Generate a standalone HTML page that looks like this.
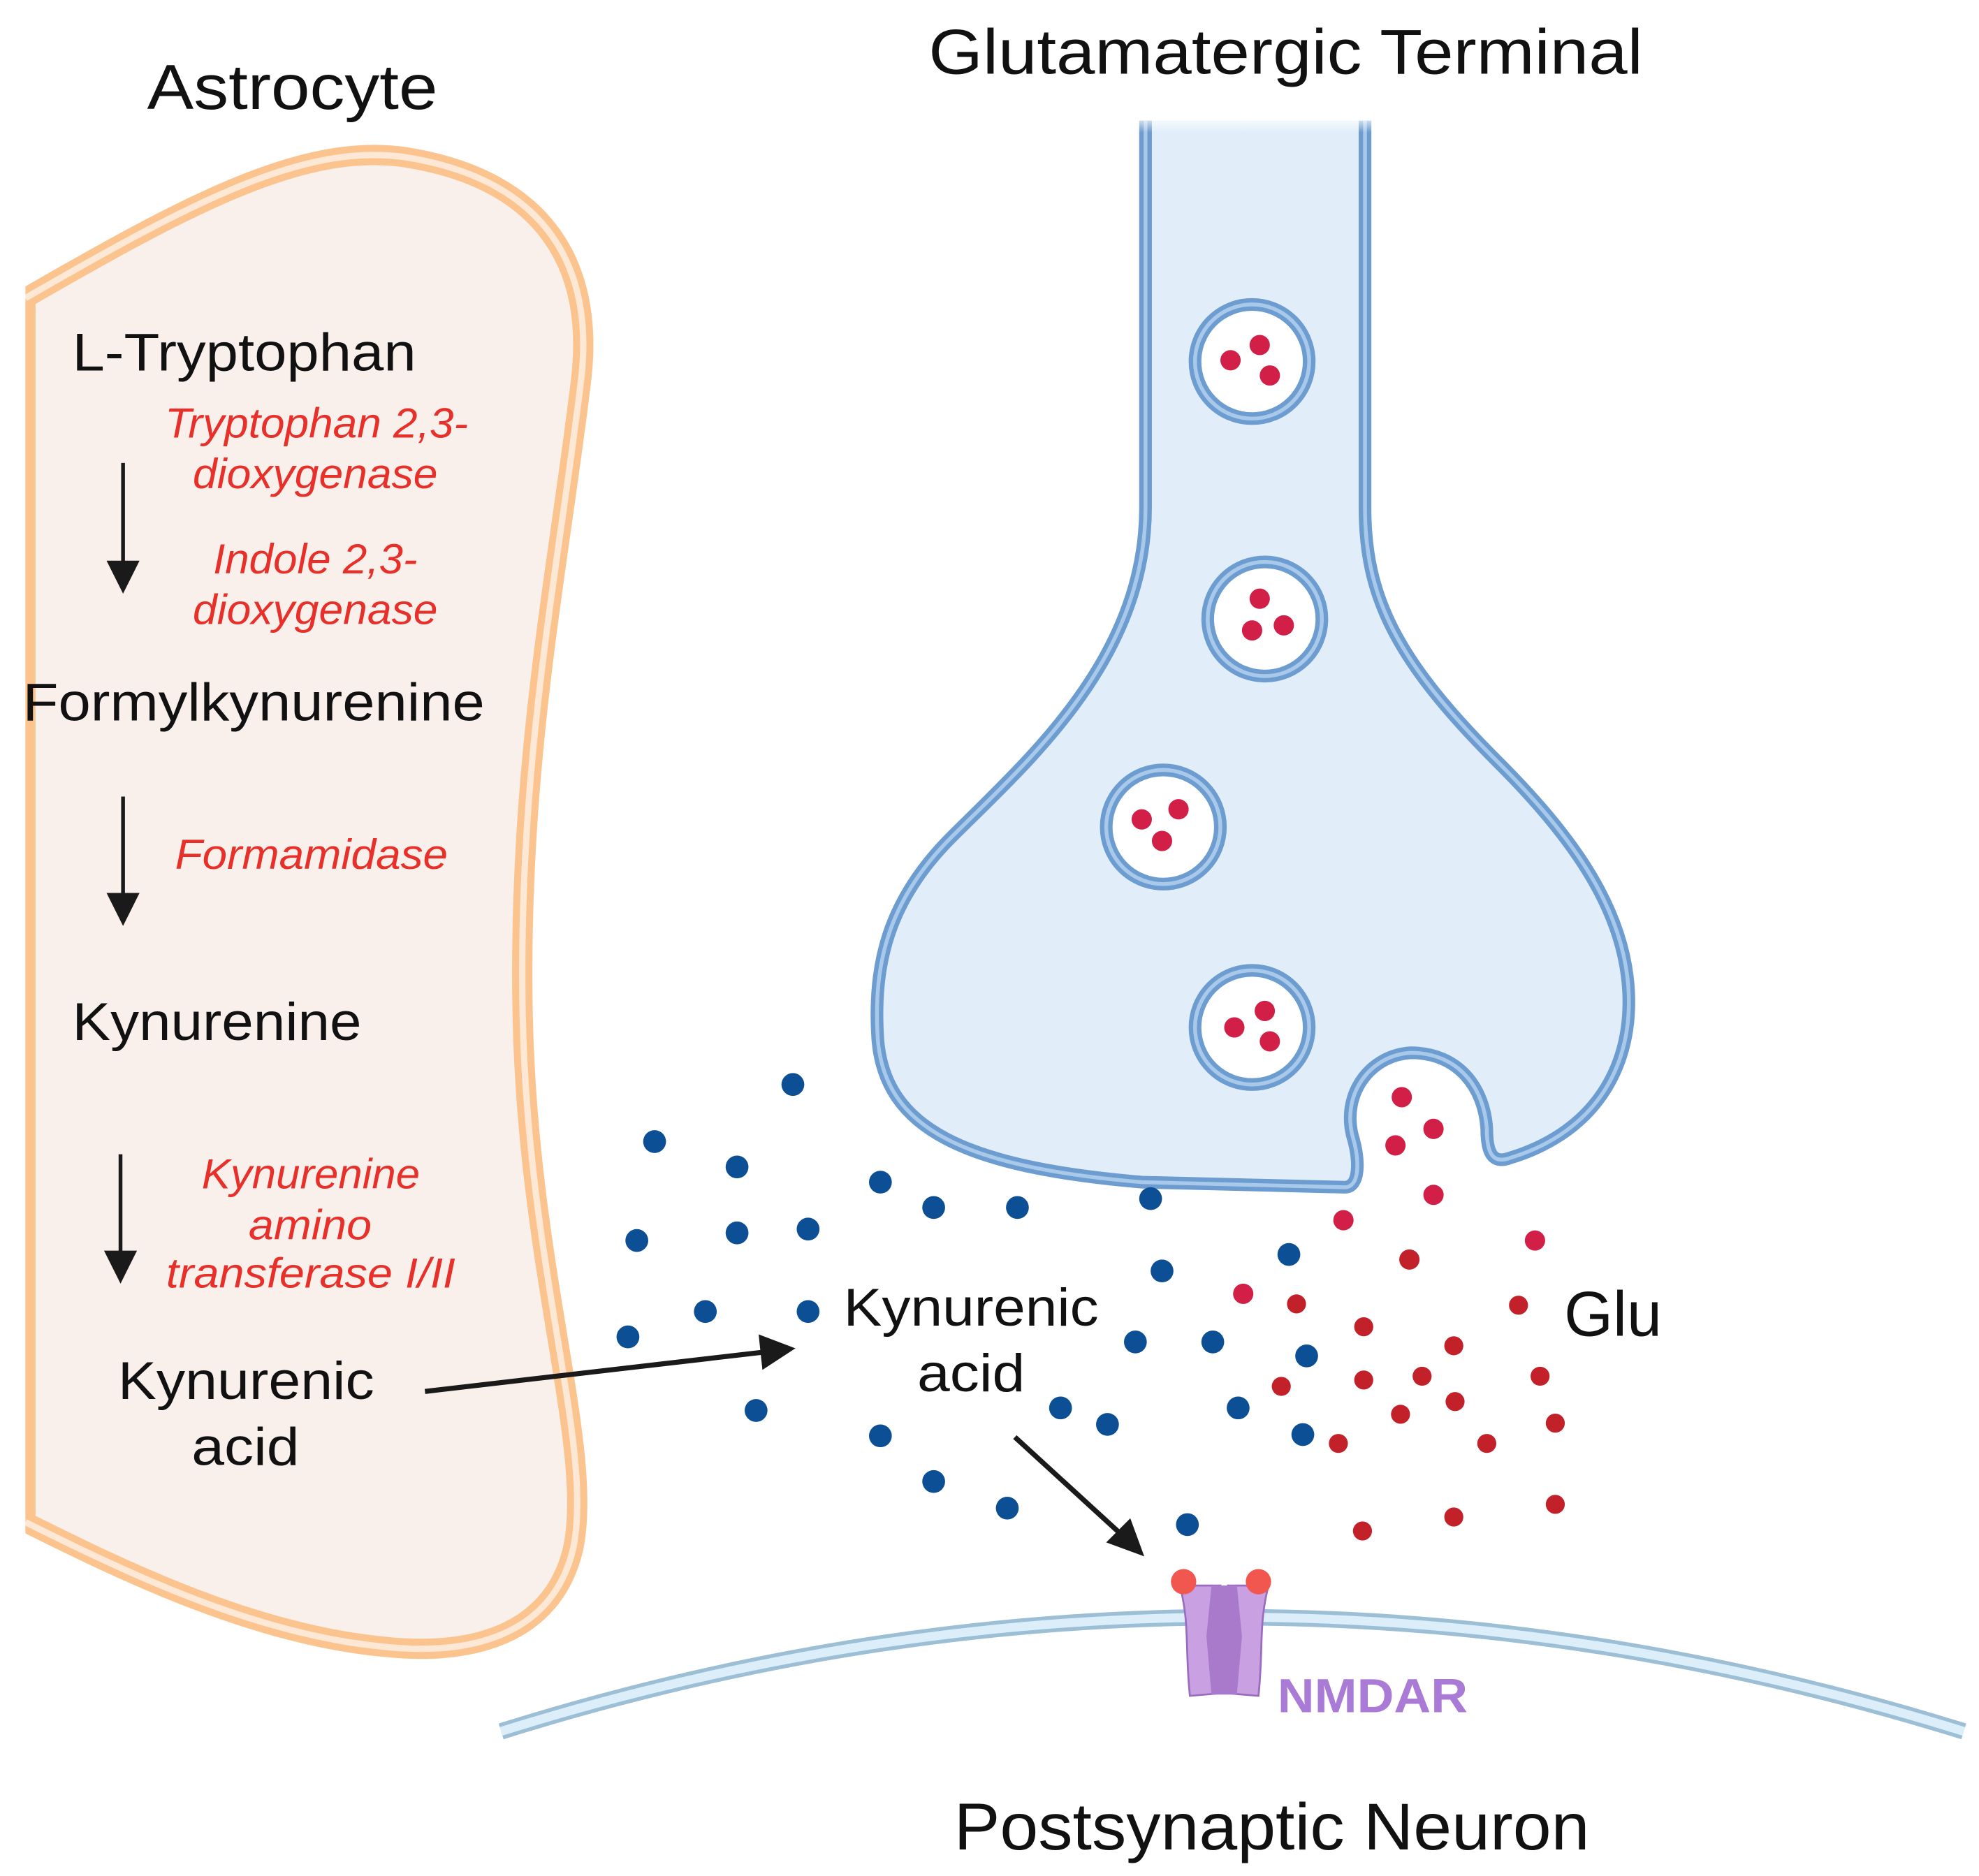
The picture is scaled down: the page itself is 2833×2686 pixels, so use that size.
<!DOCTYPE html>
<html><head><meta charset="utf-8"><style>html,body{margin:0;padding:0;background:#fff}svg{display:block}</style></head>
<body>
<svg width="2833" height="2686" viewBox="0 0 1560 1479" xmlns="http://www.w3.org/2000/svg" font-family="Liberation Sans, sans-serif">
<defs>
<linearGradient id="fade" x1="0" y1="0" x2="0" y2="1">
<stop offset="0" stop-color="#fff" stop-opacity="1"/><stop offset="0.12" stop-color="#fff" stop-opacity="0"/>
</linearGradient>
</defs>
<rect width="1560" height="1479" fill="#fff"/>
<!-- astrocyte -->
<path d="M20,235 C150,160 240,112 320,124 C420,140 470,200 458,300 C440,450 408,600 412,800 C416,1000 468,1140 452,1220 C436,1290 370,1306 300,1298 C200,1288 100,1240 20,1200 Z" fill="#f9f0eb" stroke="#fbc48f" stroke-width="16"/>
<path d="M20,235 C150,160 240,112 320,124 C420,140 470,200 458,300 C440,450 408,600 412,800 C416,1000 468,1140 452,1220 C436,1290 370,1306 300,1298 C200,1288 100,1240 20,1200" fill="none" stroke="#fde8d6" stroke-width="5"/>
<rect x="0" y="0" width="20" height="1479" fill="#fff"/>
<g lengthAdjust="spacingAndGlyphs">
<text x="116" y="86" font-size="50" fill="#111" textLength="229" lengthAdjust="spacingAndGlyphs">Astrocyte</text>
<text x="732" y="58" font-size="50" fill="#111" textLength="563" lengthAdjust="spacingAndGlyphs">Glutamatergic Terminal</text>
</g>
<g font-size="42" fill="#111">
<text x="57" y="292" textLength="271" lengthAdjust="spacingAndGlyphs">L-Tryptophan</text>
<text x="18" y="568" textLength="364" lengthAdjust="spacingAndGlyphs">Formylkynurenine</text>
<text x="57" y="820" textLength="228" lengthAdjust="spacingAndGlyphs">Kynurenine</text>
<text x="93" y="1103" textLength="202" lengthAdjust="spacingAndGlyphs">Kynurenic</text>
<text x="151" y="1155" textLength="85" lengthAdjust="spacingAndGlyphs">acid</text>
<text x="665" y="1045" textLength="201" lengthAdjust="spacingAndGlyphs">Kynurenic</text>
<text x="723" y="1097" textLength="85" lengthAdjust="spacingAndGlyphs">acid</text>
</g>
<g font-size="33" fill="#e8302a" font-style="italic">
<text x="130" y="345" textLength="239" lengthAdjust="spacingAndGlyphs">Tryptophan 2,3-</text>
<text x="152" y="385" textLength="193" lengthAdjust="spacingAndGlyphs">dioxygenase</text>
<text x="168" y="452" textLength="161" lengthAdjust="spacingAndGlyphs">Indole 2,3-</text>
<text x="152" y="492" textLength="193" lengthAdjust="spacingAndGlyphs">dioxygenase</text>
<text x="138" y="685" textLength="215" lengthAdjust="spacingAndGlyphs">Formamidase</text>
<text x="159" y="937" textLength="172" lengthAdjust="spacingAndGlyphs">Kynurenine</text>
<text x="196" y="977" textLength="97" lengthAdjust="spacingAndGlyphs">amino</text>
<text x="131" y="1015" textLength="228" lengthAdjust="spacingAndGlyphs">transferase I/II</text>
</g>
<g stroke="#1a1a1a" stroke-width="3" fill="#1a1a1a">
<line x1="97" y1="365" x2="97" y2="445"/><path d="M84,442 L110,442 L97,468 Z" stroke="none"/>
<line x1="97" y1="628" x2="97" y2="707"/><path d="M84,704 L110,704 L97,730 Z" stroke="none"/>
<line x1="95" y1="910" x2="95" y2="989"/><path d="M82,986 L108,986 L95,1012 Z" stroke="none"/>
<line x1="335" y1="1097" x2="602" y2="1066" stroke-width="4"/><path d="M598,1052 L627,1063 L601,1080 Z" stroke="none"/>
<line x1="800" y1="1133" x2="882" y2="1208" stroke-width="4"/><path d="M872,1216 L902,1227 L891,1197 Z" stroke="none"/>
</g>
<!-- terminal -->
<path d="M903,95 L903,400 C903,520 810,600 750,660 C700,710 688,760 692,820 C698,890 760,920 900,932 L1060,936 C1072,936 1072,915 1066,895 C1058,862 1080,832 1112,830 C1150,830 1170,858 1172,890 C1172,908 1176,918 1190,913 C1250,895 1284,850 1284,790 C1284,720 1240,660 1180,600 C1100,520 1076,470 1076,400 L1076,95" fill="#e1eefa" stroke="#6d9dd0" stroke-width="10"/>
<path d="M903,95 L903,400 C903,520 810,600 750,660 C700,710 688,760 692,820 C698,890 760,920 900,932 L1060,936 C1072,936 1072,915 1066,895 C1058,862 1080,832 1112,830 C1150,830 1170,858 1172,890 C1172,908 1176,918 1190,913 C1250,895 1284,850 1284,790 C1284,720 1240,660 1180,600 C1100,520 1076,470 1076,400 L1076,95" fill="none" stroke="#a9c9ea" stroke-width="3"/>
<rect x="880" y="90" width="220" height="120" fill="url(#fade)"/>
<g fill="#fff" stroke="#6d9dd0" stroke-width="10">
<circle cx="987" cy="285" r="45"/><circle cx="997" cy="488" r="45"/><circle cx="917" cy="652" r="45"/><circle cx="987" cy="810" r="45"/>
</g>
<g fill="none" stroke="#a9c9ea" stroke-width="3">
<circle cx="987" cy="285" r="45"/><circle cx="997" cy="488" r="45"/><circle cx="917" cy="652" r="45"/><circle cx="987" cy="810" r="45"/>
</g>
<g fill="#d11f48">
<circle cx="970" cy="284" r="8"/><circle cx="993" cy="272" r="8"/><circle cx="1001" cy="296" r="8"/>
<circle cx="993" cy="472" r="8"/><circle cx="987" cy="497" r="8"/><circle cx="1012" cy="493" r="8"/>
<circle cx="900" cy="646" r="8"/><circle cx="929" cy="638" r="8"/><circle cx="916" cy="663" r="8"/>
<circle cx="973" cy="810" r="8"/><circle cx="997" cy="797" r="8"/><circle cx="1001" cy="821" r="8"/>
<circle cx="1105" cy="865" r="8"/><circle cx="1130" cy="890" r="8"/><circle cx="1100" cy="903" r="8"/><circle cx="1130" cy="942" r="8"/><circle cx="1059" cy="962" r="8"/><circle cx="1210" cy="978" r="8"/><circle cx="980" cy="1020" r="8"/>
</g>
<g fill="#c32129">
<circle cx="1111" cy="993" r="8"/><circle cx="1022" cy="1028" r="7.5"/><circle cx="1197" cy="1029" r="7.5"/><circle cx="1075" cy="1046" r="7.5"/><circle cx="1146" cy="1061" r="7.5"/><circle cx="1214" cy="1085" r="7.5"/><circle cx="1010" cy="1093" r="7.5"/><circle cx="1075" cy="1088" r="7.5"/><circle cx="1121" cy="1085" r="7.5"/><circle cx="1147" cy="1105" r="7.5"/><circle cx="1104" cy="1115" r="7.5"/><circle cx="1226" cy="1122" r="7.5"/><circle cx="1055" cy="1138" r="7.5"/><circle cx="1172" cy="1138" r="7.5"/><circle cx="1074" cy="1207" r="7.5"/><circle cx="1146" cy="1196" r="7.5"/><circle cx="1226" cy="1186" r="7.5"/>
</g>
<g fill="#0d4f94">
<circle cx="625" cy="855" r="9"/><circle cx="516" cy="900" r="9"/><circle cx="581" cy="920" r="9"/><circle cx="694" cy="932" r="9"/><circle cx="736" cy="952" r="9"/><circle cx="802" cy="952" r="9"/><circle cx="907" cy="945" r="9"/><circle cx="502" cy="978" r="9"/><circle cx="581" cy="972" r="9"/><circle cx="637" cy="969" r="9"/><circle cx="916" cy="1002" r="9"/><circle cx="1016" cy="989" r="9"/><circle cx="556" cy="1034" r="9"/><circle cx="637" cy="1034" r="9"/><circle cx="495" cy="1054" r="9"/><circle cx="895" cy="1058" r="9"/><circle cx="956" cy="1058" r="9"/><circle cx="1030" cy="1069" r="9"/><circle cx="596" cy="1112" r="9"/><circle cx="836" cy="1110" r="9"/><circle cx="873" cy="1123" r="9"/><circle cx="976" cy="1110" r="9"/><circle cx="1027" cy="1131" r="9"/><circle cx="694" cy="1132" r="9"/><circle cx="736" cy="1168" r="9"/><circle cx="794" cy="1189" r="9"/><circle cx="936" cy="1202" r="9"/>
</g>
<text x="1233" y="1053" font-size="50" fill="#111" textLength="77" lengthAdjust="spacingAndGlyphs">Glu</text>
<!-- postsynaptic membrane -->
<path d="M395,1365 Q970,1185 1548,1365" fill="none" stroke="#9dbfd6" stroke-width="13"/>
<path d="M395,1365 Q970,1185 1548,1365" fill="none" stroke="#dbeefa" stroke-width="7"/>
<!-- NMDAR -->
<path d="M930,1250 L962,1250 L958,1290 L962,1335 L938,1337 C934,1300 938,1280 930,1250 Z" fill="#c9a0e2" stroke="#9a6cc0" stroke-width="1.5"/>
<path d="M1000,1250 L968,1250 L972,1290 L968,1335 L992,1337 C996,1300 992,1280 1000,1250 Z" fill="#c9a0e2" stroke="#9a6cc0" stroke-width="1.5"/>
<path d="M955,1250 L975,1250 L979,1290 L975,1336 L955,1336 L951,1290 Z" fill="#a97acb"/>
<circle cx="933" cy="1247" r="10" fill="#f2574f"/><circle cx="992" cy="1247" r="10" fill="#f2574f"/>
<text x="1007" y="1350" font-size="38" font-weight="bold" fill="#a97ad6" textLength="150" lengthAdjust="spacingAndGlyphs">NMDAR</text>
<text x="752" y="1458" font-size="52" fill="#111" textLength="501" lengthAdjust="spacingAndGlyphs">Postsynaptic Neuron</text>
</svg>
</body></html>
